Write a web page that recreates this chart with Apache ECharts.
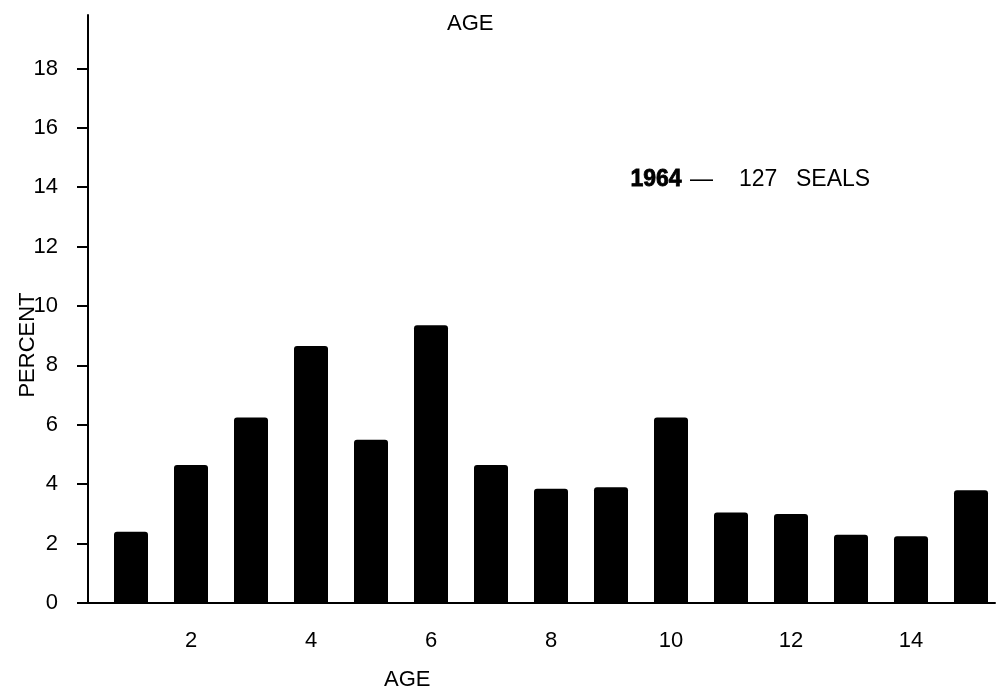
<!DOCTYPE html>
<html>
<head>
<meta charset="utf-8">
<script src="https://cdn.jsdelivr.net/npm/echarts@6/dist/echarts.min.js"></script>
<style>
html,body{margin:0;padding:0;background:#fff;}
#chart{width:997px;height:696px;}
</style>
</head>
<body>
<div id="chart"></div>
<script>
const ages = [1,2,3,4,5,6,7,8,9,10,11,12,13,14,15];
const percents = [2.4,4.65,6.25,8.65,5.5,9.35,4.65,3.85,3.9,6.25,3.05,3.0,2.3,2.25,3.8];
const xTickLabels = [2,4,6,8,10,12,14];
const yTickLabels = [0,2,4,6,8,10,12,14,16,18];
const titleText = 'AGE';
const xName = 'AGE';
const yName = 'PERCENT';
const noteYear = '1964';
const noteDash = '—';
const noteCount = '127';
const noteUnit = 'SEALS';

const FONT = '"Liberation Sans", "DejaVu Sans", sans-serif';
const chart = echarts.init(document.getElementById('chart'), null, {renderer:'canvas'});
chart.setOption({
  backgroundColor:'#fff',
  animation:false,
  grid:{left:88,right:2,top:15,bottom:93,containLabel:false},
  xAxis:{
    type:'value', min:0.2833, max:15.4,
    axisLine:{show:true,onZero:false,lineStyle:{color:'#000',width:2}},
    axisTick:{show:false},
    splitLine:{show:false},
    axisLabel:{customValues:xTickLabels,margin:27,color:'#000',fontSize:22,fontFamily:FONT,
      formatter:v=>String(v)}
  },
  yAxis:{
    type:'value', min:0, max:19.8,
    axisLine:{show:true,lineStyle:{color:'#000',width:2}},
    axisTick:{show:true,inside:false,length:11,customValues:yTickLabels,lineStyle:{color:'#000',width:2}},
    splitLine:{show:false},
    axisLabel:{customValues:yTickLabels,margin:30,color:'#000',fontSize:22,fontFamily:FONT,
      formatter:v=>String(v)}
  },
  series:[{
    type:'bar',
    data:ages.map((a,i)=>[a,percents[i]]),
    barWidth:34,
    itemStyle:{color:'#000',borderRadius:[3,3,0,0]}
  }],
  graphic:[
    {type:'text',left:447,top:13,style:{text:titleText,font:'22px "Liberation Sans", sans-serif',fill:'#000'}},
    {type:'text',left:384,top:669,style:{text:xName,font:'22px "Liberation Sans", sans-serif',fill:'#000'}},
    {type:'text',x:28,y:345,rotation:Math.PI/2,style:{text:yName,font:'22px "Liberation Sans", sans-serif',fill:'#000',align:'center',verticalAlign:'middle'}},
    {type:'text',left:630,top:168,style:{text:noteYear,font:'900 23px "Liberation Sans", sans-serif',fill:'#000',stroke:'#000',lineWidth:0.8}},
    {type:'text',left:690,top:168,style:{text:noteDash,font:'23px "Liberation Sans", sans-serif',fill:'#000'}},
    {type:'text',left:739,top:168,style:{text:noteCount,font:'23px "Liberation Sans", sans-serif',fill:'#000'}},
    {type:'text',left:796,top:168,style:{text:noteUnit,font:'23px "Liberation Sans", sans-serif',fill:'#000'}}
  ]
});
</script>
</body>
</html>
